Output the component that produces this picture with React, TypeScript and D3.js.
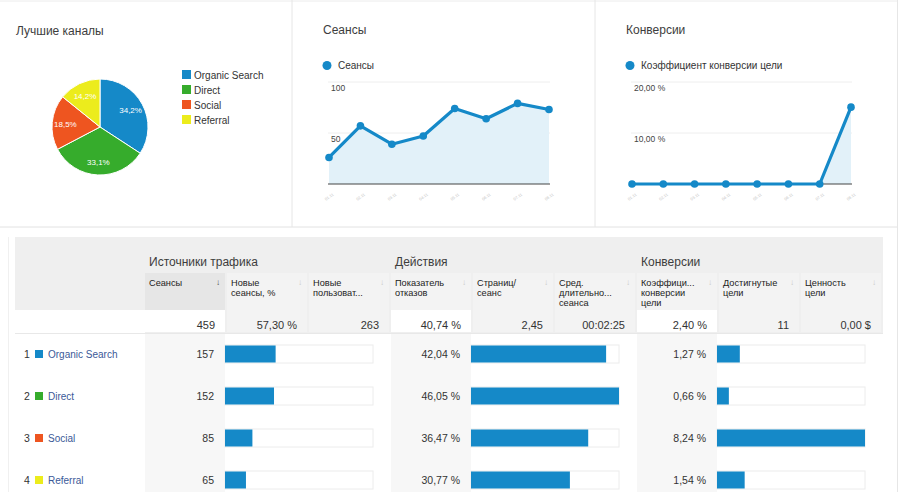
import React from 'react';
import * as d3 from 'd3';

// ---------- data ----------
const channels = ['Organic Search', 'Direct', 'Social', 'Referral'];
const channelColors = ['#1589c8', '#36ac2c', '#ee5520', '#ecec1c'];
const channelShare = [34.2, 33.1, 18.5, 14.2];

const dayLabels = ['01.11', '02.11', '03.11', '04.11', '05.11', '06.11', '07.11', '08.11'];
const sessionsDaily = [26, 57, 39, 47, 74, 64, 79, 73];
const sessionsTicks = [50, 100];
const conversionDaily = [0, 0, 0, 0, 0, 0, 0, 15.07];
const conversionTicks = [10, 20];

const groupTitles = ['Источники трафика', 'Действия', 'Конверсии'];
const columnHeaders = [
  ['Сеансы'],
  ['Новые', 'сеансы, %'],
  ['Новые', 'пользоват...'],
  ['Показатель', 'отказов'],
  ['Страниц/', 'сеанс'],
  ['Сред.', 'длительно...', 'сеанса'],
  ['Коэффици...', 'конверсии', 'цели'],
  ['Достигнутые', 'цели'],
  ['Ценность', 'цели'],
];
const totalsRow = ['459', '57,30 %', '263', '40,74 %', '2,45', '00:02:25', '2,40 %', '11', '0,00 $'];
const totalSessions = 459;
const sessionsByChannel = [157, 152, 85, 65];
const bounceByChannel = [42.04, 46.05, 36.47, 30.77];
const conversionByChannel = [1.27, 0.66, 8.24, 1.54];

// ---------- styles ----------
const FONT = '"Liberation Sans", Arial, sans-serif';
const BLUE = '#1589c8';
const AREA = '#e2f1f9';
const TEXT = '#333';
const TITLE = '#3d3d3d';

const ru = d3.formatLocale({ decimal: ',', thousands: '\u00a0', grouping: [3], currency: ['', ' $'] });
const pct2 = (v: number) => ru.format('.2f')(v) + ' %';
const pct1 = (v: number) => ru.format('.1f')(v) + '%';

function LineChart({ x0, x1, values, ticks, max, tickFmt }: any) {
  const x = d3.scalePoint<number>().domain(values.map((_: any, i: number) => i)).range([x0, x1]);
  const y = d3.scaleLinear().domain([0, max]).range([184, 82]);
  const line = d3.line<number>().x((_, i) => x(i)!).y((d) => y(d));
  const area = d3.area<number>().x((_, i) => x(i)!).y0(y(0)).y1((d) => y(d));
  return (
    <g>
      {ticks.map((t: number) => (
        <g key={t}>
          <line x1={x0 - 1} x2={x1 + 1} y1={y(t)} y2={y(t)} stroke="#eeeeee" />
          <text x={x0 + 2} y={y(t) + 9} fontSize={8.5} fill="#444" fontFamily={FONT}>{tickFmt(t)}</text>
        </g>
      ))}
      <path d={area(values)!} fill={AREA} />
      <line x1={x0 - 1} x2={x1 + 1} y1={y(0)} y2={y(0)} stroke="#444" strokeWidth={1} />
      <path d={line(values)!} fill="none" stroke={BLUE} strokeWidth={3.2} strokeLinejoin="round" />
      {values.map((v: number, i: number) => (
        <circle key={i} cx={x(i)} cy={y(v)} r={3.8} fill={BLUE} />
      ))}
      {dayLabels.map((d, i) => (
        <text key={d} transform={`translate(${x(i)! + 1},${198}) rotate(-35)`} fontSize={4} fill="#c4c4c4"
          textAnchor="middle" fontFamily={FONT}>{d}</text>
      ))}
    </g>
  );
}

export default function App() {
  // pie
  const cx = 100, cy = 127, r = 48;
  const pie = d3.pie<number>().sort(null).value((d) => d)(channelShare);
  const arc = d3.arc<d3.PieArcDatum<number>>().innerRadius(0).outerRadius(r);
  const labelArc = d3.arc<d3.PieArcDatum<number>>().innerRadius(0).outerRadius(r * 1.45);

  // table geometry
  const colX = d3.range(10).map((i) => 145 + i * 82);
  const tLeft = 15, tRight = colX[9];
  const rowTop = 333, rowH = 42;
  const barW = 148;
  const sessScale = d3.scaleLinear().domain([0, totalSessions]).range([0, barW]);
  const bounceScale = d3.scaleLinear().domain([0, d3.max(bounceByChannel)!]).range([0, barW]);
  const convScale = d3.scaleLinear().domain([0, d3.max(conversionByChannel)!]).range([0, barW]);
  const barGroups = [
    { col: 0, values: sessionsByChannel, scale: sessScale, fmt: (v: number) => String(v) },
    { col: 3, values: bounceByChannel, scale: bounceScale, fmt: pct2 },
    { col: 6, values: conversionByChannel, scale: convScale, fmt: pct2 },
  ];

  return (
    <svg width={900} height={492} style={{ position: 'absolute', left: 0, top: 0, background: '#fff' }}
      fontFamily={FONT}>
      <rect x={0} y={0} width={900} height={492} fill="#fff" />
      {/* panel borders */}
      <line x1={0} x2={897} y1={1} y2={1} stroke="#ececec" />
      <line x1={0} x2={897} y1={227} y2={227} stroke="#e2e2e2" />
      <line x1={292} x2={292} y1={0} y2={227} stroke="#e6e6e6" />
      <line x1={595} x2={595} y1={0} y2={227} stroke="#e6e6e6" />
      <line x1={897.5} x2={897.5} y1={0} y2={492} stroke="#e6e6e6" />
      <line x1={8.5} x2={8.5} y1={237} y2={492} stroke="#f0f0f0" />

      {/* panel 1: pie */}
      <text x={16} y={35} fontSize={12} fill={TITLE}>Лучшие каналы</text>
      <g transform={`translate(${cx},${cy})`}>
        {pie.map((p, i) => (
          <path key={i} d={arc(p)!} fill={channelColors[i]} stroke="#fff" strokeWidth={1} />
        ))}
        {pie.map((p, i) => {
          const [lx, ly] = labelArc.centroid(p);
          return (
            <text key={'l' + i} x={lx} y={ly + 3} fontSize={8} fill="#fff" textAnchor="middle">
              {pct1(channelShare[i])}
            </text>
          );
        })}
      </g>
      {channels.map((c, i) => (
        <g key={c}>
          <rect x={182} y={70 + i * 15} width={9} height={9} fill={channelColors[i]} />
          <text x={194} y={78.5 + i * 15} fontSize={10} fill={TEXT}>{c}</text>
        </g>
      ))}

      {/* panel 2: sessions */}
      <text x={323} y={34} fontSize={12} fill={TITLE}>Сеансы</text>
      <circle cx={327} cy={65.5} r={4.5} fill={BLUE} />
      <text x={338} y={69} fontSize={10} fill={TEXT}>Сеансы</text>
      <LineChart x0={329} x1={549} values={sessionsDaily} ticks={sessionsTicks} max={100}
        tickFmt={(t: number) => String(t)} />

      {/* panel 3: conversions */}
      <text x={626} y={34} fontSize={12} fill={TITLE}>Конверсии</text>
      <circle cx={630} cy={65.5} r={4.5} fill={BLUE} />
      <text x={641} y={69} fontSize={10} fill={TEXT}>Коэффициент конверсии цели</text>
      <LineChart x0={632} x1={851} values={conversionDaily} ticks={conversionTicks} max={20}
        tickFmt={(t: number) => pct2(t)} />

      {/* table header */}
      <rect x={tLeft} y={237} width={tRight - tLeft} height={rowTop - 237} fill="#efefef" />
      <rect x={tLeft} y={310} width={colX[0] - tLeft} height={rowTop - 310} fill="#fff" />
      {groupTitles.map((g, i) => (
        <text key={g} x={colX[i * 3] + 4} y={266} fontSize={12} fill={TITLE}>{g}</text>
      ))}
      {columnHeaders.map((lines, i) => {
        const x0 = colX[i], x1 = colX[i + 1] - 2;
        const first = i % 3 === 0;
        return (
          <g key={i}>
            <rect x={x0} y={273} width={x1 - x0} height={37} fill={i === 0 ? '#e6e6e6' : '#f3f3f3'} />
            {lines.map((l, j) => (
              <text key={j} x={x0 + 4} y={286 + j * 10} fontSize={9.2} fill="#222">{l}</text>
            ))}
            <text x={x1 - 7} y={285} fontSize={8} textAnchor="middle" fill={i === 0 ? '#444' : '#c8c8c8'}>↓</text>
            <rect x={x0} y={310} width={x1 - x0} height={rowTop - 310 - 1} fill={first ? '#fff' : '#f3f3f3'} />
            <text x={x1 - 10} y={329} fontSize={11} textAnchor="end" fill={TEXT}>{totalsRow[i]}</text>
          </g>
        );
      })}

      {/* table rows */}
      {channels.map((c, r) => {
        const y0 = rowTop + r * rowH;
        const yc = y0 + rowH / 2;
        return (
          <g key={c}>
            <rect x={tLeft} y={y0} width={colX[0] - tLeft} height={rowH} fill="#fff" />
            {barGroups.map((g, k) => {
              const vx0 = colX[g.col], vx1 = colX[g.col + 1] - 2;
              return (
                <g key={k}>
                  <rect x={vx0} y={y0} width={vx1 - vx0} height={rowH} fill="#f7f7f7" />
                  <rect x={vx1} y={y0} width={colX[g.col + 3] - vx1} height={rowH} fill="#fff" />
                  <text x={vx1 - 11} y={yc + 4} fontSize={10.5} textAnchor="end" fill={TEXT}>
                    {g.fmt(g.values[r])}
                  </text>
                  <rect x={vx1} y={yc - 9} width={barW} height={18} fill="#fff" stroke="#ececec" />
                  <rect x={vx1} y={yc - 8.5} width={g.scale(g.values[r])} height={17} fill={BLUE} />
                </g>
              );
            })}
            <text x={24} y={yc + 4} fontSize={10.5} fill={TEXT}>{r + 1}</text>
            <rect x={35} y={yc - 4} width={8} height={8} fill={channelColors[r]} />
            <text x={48} y={yc + 4} fontSize={10} fill="#3b5998">{c}</text>
            <line x1={tLeft} x2={tRight} y1={y0 + rowH + 0.5} y2={y0 + rowH + 0.5} stroke="#e8e8e8" />
          </g>
        );
      })}
      <line x1={tLeft} x2={tRight} y1={rowTop + 0.5} y2={rowTop + 0.5} stroke="#e8e8e8" />
    </svg>
  );
}
